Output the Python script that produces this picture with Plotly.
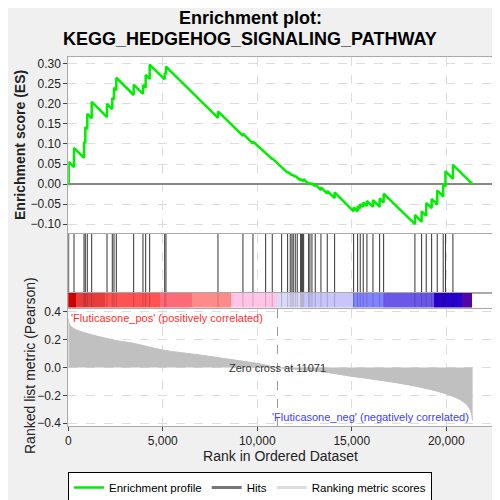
import plotly.graph_objects as go

# ranked list / gene set data
n_ranks = 21397
zero_cross = 11071

hit_ranks = [21, 302, 831, 899, 1005, 1238, 2048, 2328, 2418, 2540, 3460, 3952, 4095, 4307,
             5101, 5169, 7921, 9243, 9772, 10444, 10794, 11291, 11608, 11746, 11836, 11905,
             12011, 12116, 12296, 12349, 12402, 12455, 12720, 12788, 12894, 13069, 13370,
             13704, 14095, 15100, 15312, 15450, 15608, 15804, 16122, 16476, 16688, 18344,
             18698, 18942, 19228, 19524, 19840, 19960, 20354]
# running enrichment score just before / just after each hit
es_before = [0.0, 0.042, 0.065, 0.102, 0.137, 0.164, 0.167, 0.187, 0.211, 0.234, 0.222, 0.225,
             0.240, 0.262, 0.261, 0.274, 0.165, 0.120, 0.101, 0.076, 0.062, 0.041, 0.028, 0.024,
             0.022, 0.021, 0.018, 0.015, 0.009, 0.009, 0.009, 0.009, 0.000, 0.000, -0.002,
             -0.006, -0.015, -0.024, -0.035, -0.068, -0.068, -0.061, -0.057, -0.055, -0.057,
             -0.057, -0.046, -0.100, -0.094, -0.079, -0.060, -0.051, -0.031, -0.006, 0.013]
es_after = [0.055, 0.090, 0.105, 0.142, 0.175, 0.205, 0.200, 0.215, 0.240, 0.265, 0.248, 0.247,
            0.272, 0.298, 0.277, 0.293, 0.181, 0.126, 0.106, 0.078, 0.064, 0.043, 0.030, 0.026,
            0.024, 0.023, 0.020, 0.017, 0.0115, 0.0115, 0.0115, 0.012, 0.003, 0.003, 0.002,
            -0.001, -0.008, -0.017, -0.021, -0.058, -0.055, -0.050, -0.046, -0.042, -0.040,
            -0.036, -0.024, -0.077, -0.068, -0.047, -0.037, -0.016, 0.000, 0.032, 0.048]

metric_rank = [0, 60, 180, 444, 973, 1677, 2560, 3439, 4974, 6968, 8730, 9984, 11071, 13317,
               15026, 16667, 18434, 19841, 20725, 21079, 21254, 21350, 21397]
metric_val = [0.35, 0.31, 0.29, 0.27, 0.245, 0.22, 0.193, 0.174, 0.126, 0.09, 0.055, 0.03, 0.0,
              -0.029, -0.064, -0.095, -0.136, -0.183, -0.23, -0.267, -0.30, -0.34, -0.38]

band_edges = [0, 407, 1979, 4889, 6561, 8624, 11058, 12471, 15079, 16741, 19386, 20847, 21397]
band_colors = ['#d40000', '#e83c3c', '#ff5252', '#ff6a78', '#ff8a8a', '#ffc4e6', '#dadaf8',
               '#c8c6f8', '#8282ff', '#6a58e8', '#2800cc', '#5204a8']

x_max = 22460

# page body has an 8px margin, so the figure is 492px and placed from there
W = H = 492
OFF = 8


def fx(px):
    return (px - OFF) / W


def fy(py):
    return 1 - (py - OFF) / H


# build the sawtooth profile
es_x, es_y = [0], [0.0]
for r, b, a in zip(hit_ranks, es_before, es_after):
    es_x += [r, r]
    es_y += [b, a]
es_x.append(n_ranks)
es_y.append(0.0)

hx, hy = [], []
for r in hit_ranks:
    hx += [r, r, None]
    hy += [0, 1, None]

fig = go.Figure()

fig.add_trace(go.Scatter(x=es_x, y=es_y, mode='lines', line=dict(color='#00ee00', width=2.5),
                         name='Enrichment profile', xaxis='x', yaxis='y'))
fig.add_trace(go.Scatter(x=hx, y=hy, mode='lines', line=dict(color='#333333', width=1),
                         showlegend=False, xaxis='x2', yaxis='y2'))
fig.add_trace(go.Bar(x=[(band_edges[i] + band_edges[i + 1]) / 2 for i in range(len(band_colors))],
                     y=[1] * len(band_colors),
                     width=[band_edges[i + 1] - band_edges[i] for i in range(len(band_colors))],
                     marker=dict(color=band_colors, line=dict(width=0)),
                     showlegend=False, xaxis='x3', yaxis='y3'))
fig.add_trace(go.Scatter(x=hx, y=hy, mode='lines', line=dict(color='rgba(0,0,0,0.18)', width=1),
                         showlegend=False, xaxis='x3', yaxis='y3'))
fig.add_trace(go.Scatter(x=metric_rank, y=metric_val, mode='lines', fill='tozeroy',
                         fillcolor='#c0c0c0', line=dict(color='#c0c0c0', width=1, shape='spline'),
                         showlegend=False, xaxis='x4', yaxis='y4'))

# legend-only entries
fig.add_trace(go.Scatter(x=[None], y=[None], mode='lines', line=dict(color='#777777', width=3),
                         name='Hits', xaxis='x', yaxis='y'))
fig.add_trace(go.Scatter(x=[None], y=[None], mode='lines', line=dict(color='#dddddd', width=3),
                         name='Ranking metric scores', xaxis='x', yaxis='y'))

xdom = [fx(68.3), fx(492.7)]
frame = dict(showline=True, linecolor='#aaaaaa', linewidth=1, mirror=True, zeroline=False,
             automargin=False)
grid = dict(showgrid=True, gridcolor='#dddddd', griddash='dash', gridwidth=1)
tickf = dict(family='Liberation Sans, Arial', size=12, color='#222222')

fig.update_layout(
    width=W, height=H,
    paper_bgcolor='#f0f0f0', plot_bgcolor='white',
    margin=dict(l=0, r=0, t=0, b=0, autoexpand=False),
    font=dict(family='Liberation Sans, Arial', color='#111111'),
    showlegend=True,
    legend=dict(orientation='h', x=fx(250), xanchor='center', y=fy(472), yanchor='top',
                bgcolor='white', bordercolor='black', borderwidth=1,
                font=dict(size=11.5, color='black'), itemwidth=30, tracegroupgap=0),
    bargap=0,
    xaxis=dict(domain=xdom, range=[0, x_max], showticklabels=False, ticks='',
               dtick=5000, anchor='y', **frame, **grid),
    yaxis=dict(domain=[fy(233), fy(57.3)], range=[-0.122, 0.316], dtick=0.05,
               tickformat='.2f', ticks='outside', ticklen=4, tickcolor='#444', tickfont=tickf,
               zeroline=True, zerolinecolor='#888888', zerolinewidth=1.5,
               showline=True, linecolor='#aaaaaa', mirror=True, automargin=False, **grid),
    xaxis2=dict(domain=xdom, range=[0, x_max], showticklabels=False, ticks='', dtick=5000,
                anchor='y2', **frame, **grid),
    yaxis2=dict(domain=[fy(292.5), fy(233.5)], range=[0, 1], showticklabels=False,
                showgrid=False, ticks='', **frame),
    xaxis3=dict(domain=xdom, range=[0, x_max], showticklabels=False, ticks='', showgrid=False,
                anchor='y3', **frame),
    yaxis3=dict(domain=[fy(307.5), fy(292.5)], range=[0, 1], showticklabels=False,
                showgrid=False, ticks='', **frame),
    xaxis4=dict(domain=xdom, range=[0, x_max], dtick=5000, tickformat=',d', ticks='outside',
                ticklen=4, tickcolor='#444', tickfont=tickf, anchor='y4',
                title=dict(text='Rank in Ordered Dataset', font=dict(size=14, color='#222'),
                           standoff=3),
                **frame, **grid),
    yaxis4=dict(domain=[fy(426), fy(309)], range=[-0.42, 0.42], dtick=0.2,
                tickformat='.1f', ticks='outside', ticklen=4, tickcolor='#444', tickfont=tickf,
                **frame, **grid),
)

# titles
fig.add_annotation(xref='paper', yref='paper', x=fx(250), y=fy(18), yanchor='middle',
                   text='<b>Enrichment plot:</b>', showarrow=False,
                   font=dict(size=18, color='black'))
fig.add_annotation(xref='paper', yref='paper', x=fx(250), y=fy(39), yanchor='middle',
                   text='<b>KEGG_HEDGEHOG_SIGNALING_PATHWAY</b>', showarrow=False,
                   font=dict(size=18, color='black'))
fig.add_annotation(xref='paper', yref='paper', x=fx(20), y=fy(145), textangle=-90,
                   xanchor='center', yanchor='middle',
                   text='<b>Enrichment score (ES)</b>', showarrow=False,
                   font=dict(size=14, color='#222'))
fig.add_annotation(xref='paper', yref='paper', x=fx(30), y=fy(366), textangle=-90,
                   xanchor='center', yanchor='middle',
                   text='Ranked list metric (Pearson)', showarrow=False,
                   font=dict(size=14, color='#222'))

fig.add_shape(type='line', xref='x4', yref='y4', x0=zero_cross, x1=zero_cross, y0=-0.42, y1=0.42,
              line=dict(color='#999999', width=1, dash='dash'))

fig.add_annotation(xref='x4', yref='y4', x=zero_cross, y=0, text='Zero cross at ' + str(zero_cross),
                   showarrow=False, font=dict(size=11, color='#333333'))
fig.add_annotation(xref='x4', yref='y4', x=50, y=0.415, xanchor='left', yanchor='top',
                   text="'Fluticasone_pos' (positively correlated)", showarrow=False,
                   font=dict(size=11, color='#ff3030'))
fig.add_annotation(xref='x4', yref='y4', x=n_ranks - 100, y=-0.415, xanchor='right',
                   yanchor='bottom', text="'Fluticasone_neg' (negatively correlated)",
                   showarrow=False, font=dict(size=11, color='#4040ff'))

fig.write_html("out.html")
